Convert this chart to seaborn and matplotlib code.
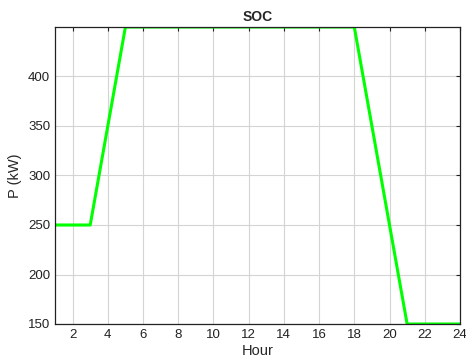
import matplotlib
matplotlib.use("Agg")
import matplotlib.pyplot as plt
import seaborn as sns
import pandas as pd

hours = list(range(1, 25))
soc_kw = [250, 250, 250, 350, 450, 450, 450, 450, 450, 450, 450, 450,
          450, 450, 450, 450, 450, 450, 350, 250, 150, 150, 150, 150]
x_ticks = list(range(2, 25, 2))
y_ticks = [150, 200, 250, 300, 350, 400]

sns.set_style("white")
plt.rcParams["font.family"] = ["Liberation Sans", "DejaVu Sans"]

df = pd.DataFrame({"Hour": hours, "P": soc_kw})

fig = plt.figure(figsize=(4.66, 3.6), dpi=100)
ax = fig.add_axes([0.118, 0.1, 0.869, 0.825])
sns.lineplot(data=df, x="Hour", y="P", ax=ax, color="#00ff00", linewidth=2.2)

ax.set_xlim(1, 24)
ax.set_ylim(150, 450)
ax.set_xticks(x_ticks)
ax.set_yticks(y_ticks)
ax.grid(True, color="#d4d4d4", linewidth=0.8)
ax.tick_params(direction="in", top=True, right=True, length=3, labelsize=9.5,
               colors="#222222", width=0.8)
for s in ax.spines.values():
    s.set_color("#222222")
    s.set_linewidth(0.9)
ax.set_xlabel("Hour", fontsize=10.5, labelpad=2)
ax.set_ylabel("P (kW)", fontsize=10.5, labelpad=4)
ax.set_title("SOC", fontsize=10, fontweight="bold", pad=4)

fig.savefig("out.png", dpi=100)
